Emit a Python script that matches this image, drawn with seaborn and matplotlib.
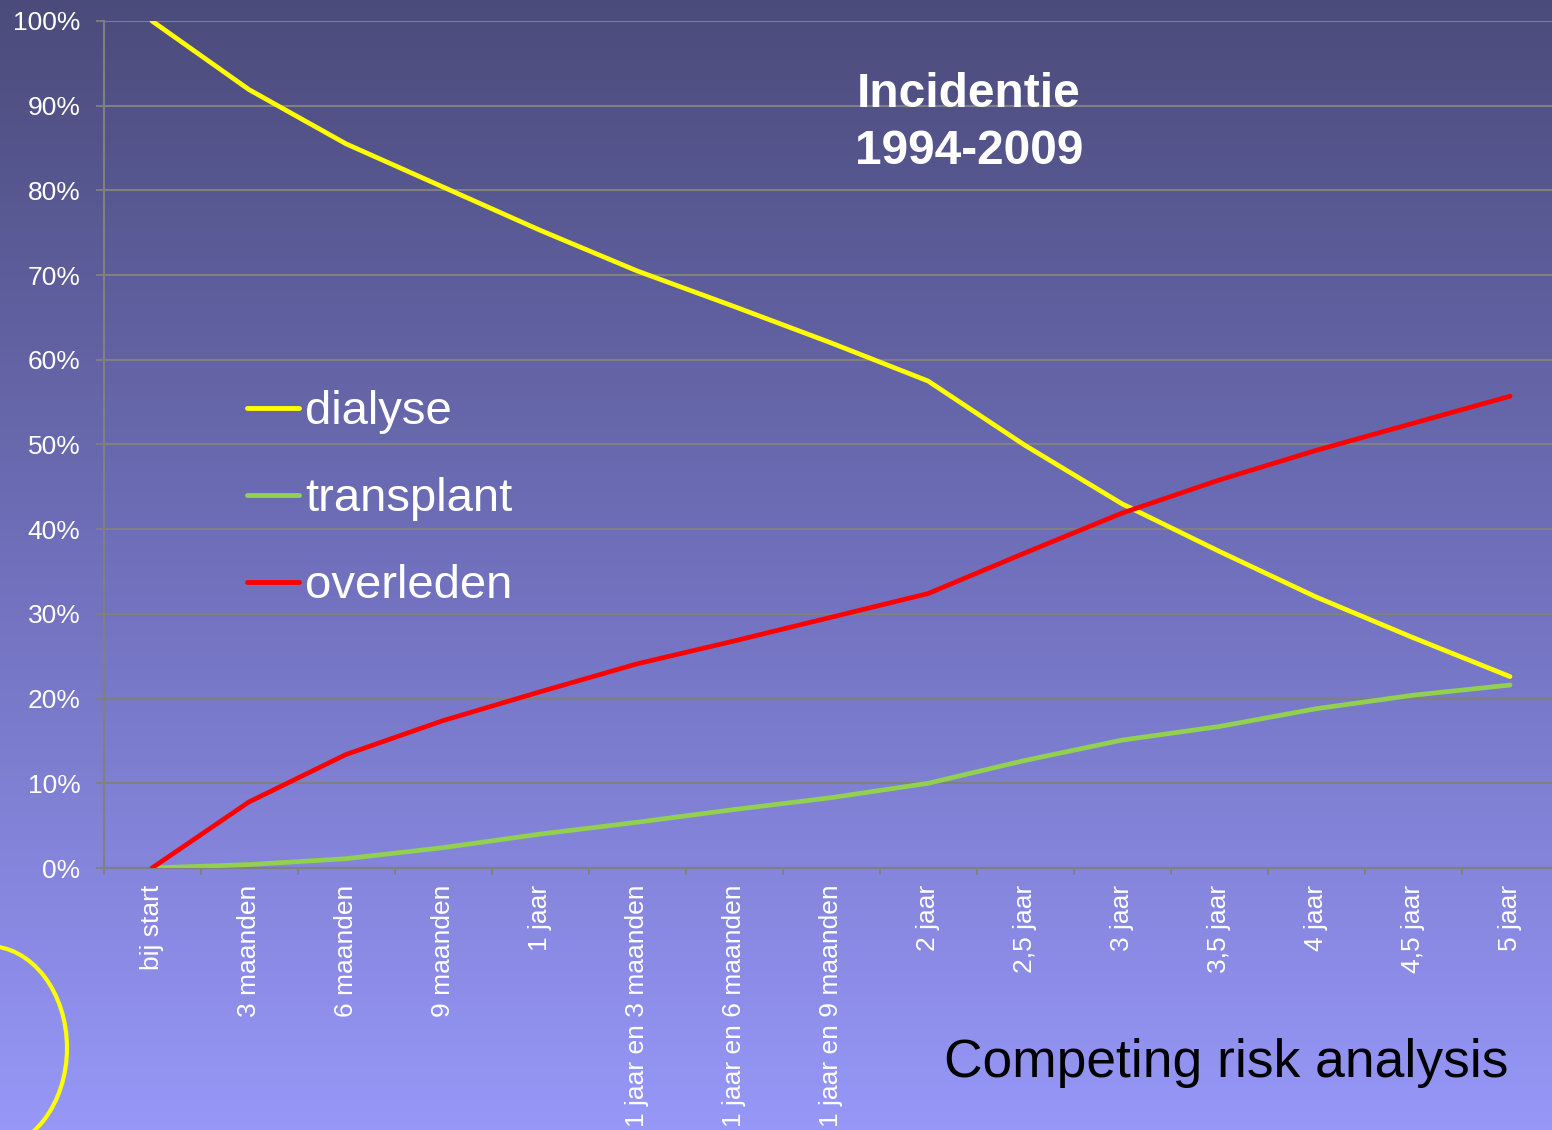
import numpy as np
import pandas as pd
import matplotlib
matplotlib.use("Agg")
import matplotlib.pyplot as plt
from matplotlib.patches import Ellipse
from matplotlib.colors import LinearSegmentedColormap
import seaborn as sns

# tijdpunten
periodes = ["bij start", "3 maanden", "6 maanden", "9 maanden", "1 jaar",
            "1 jaar en 3 maanden", "1 jaar en 6 maanden", "1 jaar en 9 maanden",
            "2 jaar", "2,5 jaar", "3 jaar", "3,5 jaar", "4 jaar", "4,5 jaar", "5 jaar"]

dialyse = [100, 91.9, 85.5, 80.4, 75.3, 70.5, 66.3, 62.0, 57.5, 49.9, 43.0, 37.4, 32.0, 27.2, 22.6]
transplant = [0, 0.4, 1.1, 2.4, 4.0, 5.4, 6.9, 8.3, 10.0, 12.7, 15.1, 16.7, 18.8, 20.4, 21.6]
overleden = [0, 7.8, 13.4, 17.4, 20.8, 24.1, 26.8, 29.6, 32.4, 37.2, 41.9, 45.8, 49.3, 52.5, 55.7]

kleuren = {"dialyse": "#ffff00", "transplant": "#92d050", "overleden": "#ff0000"}

n = len(periodes)
df = pd.DataFrame({
    "x": list(range(n)) * 3,
    "waarde": dialyse + transplant + overleden,
    "status": ["dialyse"] * n + ["transplant"] * n + ["overleden"] * n,
})

sns.set_theme(style="white")
plt.rcParams["font.family"] = ["Liberation Sans", "DejaVu Sans"]

W, H = 1552, 1130
fig = plt.figure(figsize=(W / 100, H / 100), dpi=100)

# achtergrond met verloop
bg = fig.add_axes([0, 0, 1, 1], zorder=-1)
cmap = LinearSegmentedColormap.from_list("bg", ["#4b4b7b", "#7070bc", "#9797f8"])
grad = np.linspace(0, 1, 256).reshape(-1, 1)
bg.imshow(grad, aspect="auto", cmap=cmap, extent=[0, W, H, 0])
bg.add_patch(Ellipse((-12, 1048), 158, 204, fill=False, edgecolor="#ffff00", lw=3))
bg.set_xlim(0, W)
bg.set_ylim(H, 0)
bg.axis("off")

ax = fig.add_axes([103.5 / W, 1 - 868 / H, 1455 / W, 847 / H])
ax.set_facecolor("none")

sns.lineplot(data=df, x="x", y="waarde", hue="status", palette=kleuren,
             linewidth=3.4, ax=ax, sort=False, zorder=3)

ax.set_xlim(-0.5, n - 0.5)
ax.set_ylim(0, 100)
ax.set_yticks(range(0, 101, 10))
ax.set_yticklabels([f"{v}%" for v in range(0, 101, 10)], color="white", fontsize=19)
ax.set_xticks(range(n))
ax.set_xticklabels(periodes, rotation=90, color="white", fontsize=19, va="top")
ax.set_xticks(np.arange(-0.5, n, 1), minor=True)
ax.tick_params(axis="x", which="major", length=0, pad=12)
ax.tick_params(axis="x", which="minor", length=5, width=1.3, color="#808080", direction="out", bottom=True)
ax.tick_params(axis="y", length=6, width=1.3, color="#808080", direction="out", left=True, pad=10.5)
ax.grid(axis="y", color="#808080", linewidth=1.5)
ax.set_xlabel("")
ax.set_ylabel("")
for side in ["top", "right"]:
    ax.spines[side].set_visible(False)
for side in ["left", "bottom"]:
    ax.spines[side].set_color("#808080")
    ax.spines[side].set_linewidth(1.5)

leg = ax.legend(loc="upper left", bbox_to_anchor=(0.0694, 0.614), frameon=False,
                fontsize=34, handlelength=1.1, handletextpad=0.13, labelspacing=0.91)
for t in leg.get_texts():
    t.set_color("white")
for h in leg.get_lines():
    h.set_linewidth(3.5)

fig.text(969 / W, 1 - 123 / H, "Incidentie\n1994-2009", color="white", fontsize=34.5,
         fontweight="bold", ha="center", va="center", linespacing=1.36)
fig.text(1508 / W, 1 - 1063 / H, "Competing risk analysis", color="black", fontsize=38.4,
         ha="right", va="center")

fig.savefig("out.png", dpi=100)
